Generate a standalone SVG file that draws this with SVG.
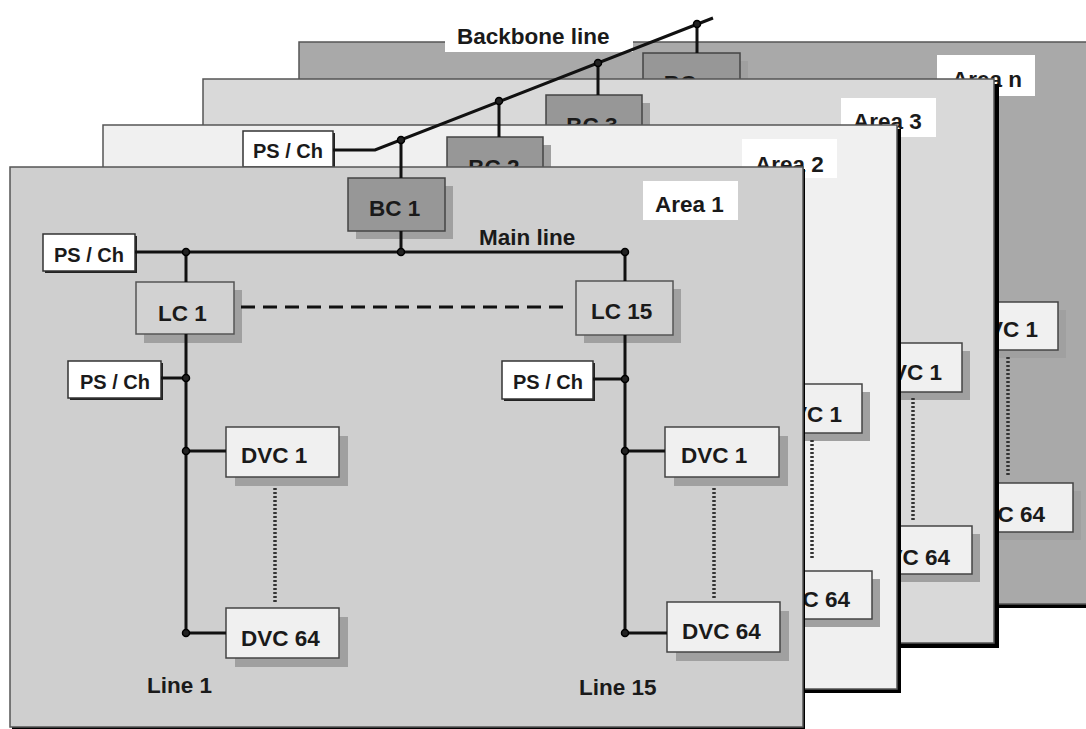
<svg xmlns="http://www.w3.org/2000/svg" width="1086" height="729" viewBox="0 0 1086 729">
<style>
text{font-family:"Liberation Sans",Arial,Helvetica,sans-serif;font-weight:bold;fill:#1a1a1a}
.lbl{font-size:22.5px}
.ps{font-size:20px}
.end{text-anchor:end}
.mid{text-anchor:middle}
.area{stroke:#555;stroke-width:1.5}
.ashadow{fill:#000}
.abox{fill:#fff}
.sh{fill:#a0a0a0}
.bc{fill:#979797;stroke:#444;stroke-width:1.5}
.lc{fill:#d2d2d2;stroke:#555;stroke-width:1.5}
.dvc{fill:#f0f0f0;stroke:#444;stroke-width:1.5}
.psbox{fill:#fff;stroke:#333;stroke-width:1.5}
.pssh{fill:#222}
.wire{fill:none;stroke:#111;stroke-width:3}
.dash{fill:none;stroke:#111;stroke-width:3;stroke-dasharray:14 8}
.dot{fill:none;stroke:#333;stroke-width:3.5;stroke-dasharray:2 2}
.j{fill:#222;stroke:#000;stroke-width:1.5}
</style>

<!-- Area n -->
<g id="area-n">
  <rect class="ashadow" x="303" y="46" width="800" height="562"/>
  <rect class="area" x="299" y="42" width="800" height="562" fill="#a9a9a9"/>
  <rect class="abox" x="445" y="30" width="188" height="22"/>
  <rect class="abox" x="937" y="55" width="98" height="41"/>
  <text class="lbl" x="952" y="87">Area n</text>
</g>
<g id="bc-n">
  <rect class="sh" x="651" y="61" width="97" height="53"/>
  <rect class="bc" x="643" y="53" width="97" height="53"/>
  <text class="lbl mid" x="690" y="91">BC n</text>
</g>
<g id="dvc1-n">
  <rect class="sh" x="952" y="310" width="114" height="48"/>
  <rect class="dvc" x="944" y="302" width="114" height="48"/>
  <text class="lbl end" x="1038" y="337">DVC 1</text>
</g>
<g id="dvc64-n">
  <rect class="sh" x="967" y="491" width="114" height="49"/>
  <rect class="dvc" x="959" y="483" width="114" height="49"/>
  <text class="lbl end" x="1045" y="522">DVC 64</text>
</g>

<!-- Area 3 -->
<g id="area-3">
  <rect class="ashadow" x="208" y="84" width="791" height="564"/>
  <rect class="area" x="203" y="79" width="791" height="564" fill="#d9d9d9"/>
  <rect class="abox" x="841" y="98" width="95" height="39"/>
  <text class="lbl" x="853" y="129">Area 3</text>
</g>
<g id="bc-3">
  <rect class="sh" x="554" y="103" width="96" height="53"/>
  <rect class="bc" x="546" y="95" width="96" height="53"/>
  <text class="lbl mid" x="592" y="133">BC 3</text>
</g>
<g id="dvc1-3">
  <rect class="sh" x="856" y="351" width="114" height="49"/>
  <rect class="dvc" x="848" y="343" width="114" height="49"/>
  <text class="lbl end" x="942" y="380">DVC 1</text>
</g>
<g id="dvc64-3">
  <rect class="sh" x="866" y="534" width="114" height="48"/>
  <rect class="dvc" x="858" y="526" width="114" height="48"/>
  <text class="lbl end" x="950" y="565">DVC 64</text>
</g>

<!-- Area 2 -->
<g id="area-2">
  <rect class="ashadow" x="107" y="129" width="794" height="564"/>
  <rect class="area" x="103" y="125" width="794" height="564" fill="#f0f0f0"/>
  <rect class="abox" x="742" y="139" width="95" height="39"/>
  <text class="lbl" x="755" y="172">Area 2</text>
</g>
<g id="bc-2">
  <rect class="sh" x="455" y="145" width="96" height="53"/>
  <rect class="bc" x="447" y="137" width="96" height="53"/>
  <text class="lbl mid" x="494" y="175">BC 2</text>
</g>
<g id="ps-backbone">
  <rect class="pssh" x="245" y="133" width="90" height="36"/>
  <rect class="psbox" x="243" y="131" width="90" height="36"/>
  <text class="ps" x="253" y="158">PS / Ch</text>
</g>
<g id="dvc1-2">
  <rect class="sh" x="756" y="392" width="114" height="49"/>
  <rect class="dvc" x="748" y="384" width="114" height="49"/>
  <text class="lbl end" x="842" y="422">DVC 1</text>
</g>
<g id="dvc64-2">
  <rect class="sh" x="766" y="579" width="114" height="48"/>
  <rect class="dvc" x="758" y="571" width="114" height="48"/>
  <text class="lbl end" x="850" y="607">DVC 64</text>
</g>

<!-- Area 1 -->
<g id="area-1">
  <rect class="ashadow" x="12" y="169" width="793" height="560"/>
  <rect class="area" x="10" y="167" width="793" height="560" fill="#cfcfcf"/>
  <rect class="abox" x="643" y="181" width="95" height="39"/>
  <text class="lbl" x="655" y="212">Area 1</text>
</g>
<g id="bc-1">
  <rect class="sh" x="356" y="186" width="97" height="53"/>
  <rect class="bc" x="348" y="178" width="97" height="53"/>
  <text class="lbl" x="369" y="216">BC 1</text>
</g>
<g id="ps-main">
  <rect class="pssh" x="45" y="236" width="92" height="37"/>
  <rect class="psbox" x="43" y="234" width="92" height="37"/>
  <text class="ps" x="54" y="262">PS / Ch</text>
</g>
<g id="lc-1">
  <rect class="sh" x="144" y="290" width="98" height="53"/>
  <rect class="lc" x="136" y="282" width="98" height="52"/>
  <text class="lbl" x="158" y="321">LC 1</text>
</g>
<g id="lc-15">
  <rect class="sh" x="584" y="289" width="97" height="54"/>
  <rect class="lc" x="576" y="281" width="97" height="54"/>
  <text class="lbl" x="591" y="319">LC 15</text>
</g>
<g id="ps-line1">
  <rect class="pssh" x="70" y="363" width="93" height="37"/>
  <rect class="psbox" x="68" y="361" width="93" height="37"/>
  <text class="ps" x="80" y="389">PS / Ch</text>
</g>
<g id="ps-line15">
  <rect class="pssh" x="504" y="363" width="91" height="38"/>
  <rect class="psbox" x="502" y="361" width="91" height="38"/>
  <text class="ps" x="513" y="389">PS / Ch</text>
</g>
<g id="dvc1-line1">
  <rect class="sh" x="235" y="436" width="113" height="50"/>
  <rect class="dvc" x="226" y="427" width="113" height="50"/>
  <text class="lbl" x="241" y="463">DVC 1</text>
</g>
<g id="dvc64-line1">
  <rect class="sh" x="235" y="617" width="113" height="50"/>
  <rect class="dvc" x="226" y="608" width="113" height="50"/>
  <text class="lbl" x="241" y="646">DVC 64</text>
</g>
<g id="dvc1-line15">
  <rect class="sh" x="674" y="436" width="114" height="50"/>
  <rect class="dvc" x="665" y="427" width="114" height="50"/>
  <text class="lbl" x="681" y="463">DVC 1</text>
</g>
<g id="dvc64-line15">
  <rect class="sh" x="676" y="611" width="113" height="50"/>
  <rect class="dvc" x="667" y="602" width="113" height="50"/>
  <text class="lbl" x="682" y="639">DVC 64</text>
</g>
<g id="labels">
  <text class="lbl" x="457" y="44">Backbone line</text>
  <text class="lbl" x="479" y="245">Main line</text>
  <text class="lbl" x="147" y="693">Line 1</text>
  <text class="lbl" x="579" y="695">Line 15</text>
</g>

<!-- Connectors -->
<g id="connectors">
  <polyline class="wire" points="333,150 375,150 713,18"/>
  <line class="wire" x1="401" y1="140" x2="401" y2="178"/>
  <line class="wire" x1="499" y1="101" x2="499" y2="137"/>
  <line class="wire" x1="598" y1="63" x2="598" y2="95"/>
  <line class="wire" x1="697" y1="24" x2="697" y2="53"/>
  <line class="wire" x1="135" y1="252" x2="625" y2="252"/>
  <line class="wire" x1="401" y1="231" x2="401" y2="252"/>
  <line class="wire" x1="186" y1="252" x2="186" y2="282"/>
  <line class="wire" x1="625" y1="252" x2="625" y2="281"/>
  <line class="wire" x1="186" y1="334" x2="186" y2="633"/>
  <line class="wire" x1="625" y1="335" x2="625" y2="633"/>
  <line class="wire" x1="161" y1="378" x2="186" y2="378"/>
  <line class="wire" x1="593" y1="379" x2="625" y2="379"/>
  <line class="wire" x1="186" y1="451" x2="226" y2="451"/>
  <line class="wire" x1="186" y1="633" x2="226" y2="633"/>
  <line class="wire" x1="625" y1="451" x2="665" y2="451"/>
  <line class="wire" x1="625" y1="633" x2="667" y2="633"/>
  <line class="dash" x1="241" y1="307" x2="566" y2="307"/>
  <line class="dot" x1="275" y1="488" x2="275" y2="602"/>
  <line class="dot" x1="714" y1="488" x2="714" y2="599"/>
  <line class="dot" x1="812" y1="440" x2="812" y2="560"/>
  <line class="dot" x1="913" y1="398" x2="913" y2="522"/>
  <line class="dot" x1="1008" y1="357" x2="1008" y2="477"/>
  <circle class="j" cx="401" cy="140" r="3.5"/>
  <circle class="j" cx="499" cy="101" r="3.5"/>
  <circle class="j" cx="598" cy="63" r="3.5"/>
  <circle class="j" cx="697" cy="24" r="3.5"/>
  <circle class="j" cx="186" cy="252" r="3.5"/>
  <circle class="j" cx="401" cy="252" r="3.5"/>
  <circle class="j" cx="625" cy="252" r="3.5"/>
  <circle class="j" cx="186" cy="378" r="3.5"/>
  <circle class="j" cx="625" cy="379" r="3.5"/>
  <circle class="j" cx="186" cy="451" r="3.5"/>
  <circle class="j" cx="186" cy="633" r="3.5"/>
  <circle class="j" cx="625" cy="451" r="3.5"/>
  <circle class="j" cx="625" cy="633" r="3.5"/>
</g>
</svg>
